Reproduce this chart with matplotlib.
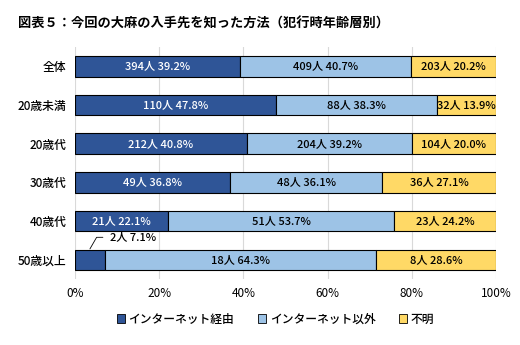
import matplotlib.pyplot as plt
import numpy as np
from matplotlib.patches import Patch

plt.rcParams['font.family'] = ['Noto Sans CJK JP', 'DejaVu Sans']

groups = ["全体", "20歳未満", "20歳代", "30歳代", "40歳代", "50歳以上"]
series = ["インターネット経由", "インターネット以外", "不明"]
counts = np.array([
    [394, 409, 203],
    [110, 88, 32],
    [212, 204, 104],
    [49, 48, 36],
    [21, 51, 23],
    [2, 18, 8],
])
pcts = np.array([
    [39.2, 40.7, 20.2],
    [47.8, 38.3, 13.9],
    [40.8, 39.2, 20.0],
    [36.8, 36.1, 27.1],
    [22.1, 53.7, 24.2],
    [7.1, 64.3, 28.6],
])
colors = ["#2F5597", "#9DC3E6", "#FFD966"]
text_colors = ["white", "black", "black"]

widths = counts / counts.sum(axis=1, keepdims=True) * 100

fig = plt.figure(figsize=(5.2, 3.45), dpi=100)
ax = fig.add_axes([0.144, 0.191, 0.81, 0.673])

y = np.arange(len(groups))
left = np.zeros(len(groups))
for j in range(3):
    ax.barh(y, widths[:, j], left=left, height=0.53, color=colors[j],
            edgecolor="black", linewidth=0.8, zorder=3)
    for i in range(len(groups)):
        label = f"{counts[i, j]}人 {pcts[i, j]:.1f}%"
        if i == 5 and j == 0:
            # small segment: label outside with leader line
            ax.annotate(label, xy=(left[i] + widths[i, j] / 2, y[i] - 0.28),
                        xytext=(8.3, y[i] - 0.58), fontsize=8, va="center",
                        ha="left", color="black", fontweight="medium",
                        arrowprops=dict(arrowstyle="-", color="black", lw=0.6,
                                        shrinkA=3, shrinkB=0,
                                        connectionstyle="angle,angleA=0,angleB=60,rad=0"),
                        zorder=4)
            continue
        ax.text(left[i] + widths[i, j] / 2, y[i], label, ha="center",
                va="center", fontsize=8, color=text_colors[j],
                fontweight="medium", zorder=4)
    left += widths[:, j]

ax.set_xlim(0, 100)
ax.set_ylim(len(groups) - 0.5, -0.5)
ax.set_yticks(y)
ax.set_yticklabels(groups, fontsize=8.5, fontweight="medium")
ax.set_xticks(np.arange(0, 101, 20))
ax.set_xticklabels([f"{v}%" for v in range(0, 101, 20)], fontsize=8.5)
ax.tick_params(length=0, pad=6)
ax.grid(axis="x", color="#D9D9D9", linewidth=0.8, zorder=0)
for s in ax.spines.values():
    s.set_visible(False)

fig.text(0.035, 0.93, "図表５：今回の大麻の入手先を知った方法（犯行時年齢層別）",
         fontsize=9.5, fontweight="bold", va="center")

handles = [Patch(facecolor=c, edgecolor="black", linewidth=0.6) for c in colors]
fig.legend(handles, series, loc="center", bbox_to_anchor=(0.53, 0.075), ncol=3,
           frameon=False, handlelength=0.7, handleheight=0.7,
           handletextpad=0.3, columnspacing=2.0,
           prop={"size": 8.5, "weight": "medium"})

fig.savefig("out.png", dpi=100)
